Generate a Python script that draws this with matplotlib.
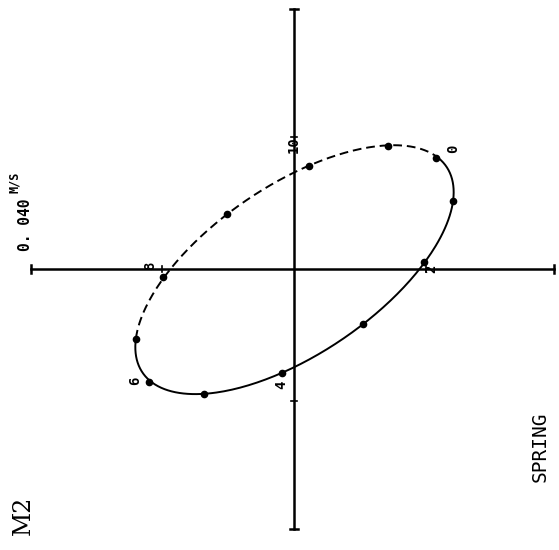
import numpy as np
import matplotlib
matplotlib.use('Agg')
import matplotlib.pyplot as plt

# M2 tidal current ellipse, spring tide: hourly velocity vectors (m/s)
hours = [0, 1, 2, 3, 4, 5, 6, 7, 8, 9, 10, 11]
u = [0.0430, 0.0482, 0.0394, 0.0209, -0.0036, -0.0273,
     -0.0439, -0.0479, -0.0397, -0.0203, 0.0045, 0.0285]
v = [0.0336, 0.0206, 0.0021, -0.0167, -0.0315, -0.0379,
     -0.0342, -0.0212, -0.0024, 0.0167, 0.0312, 0.0373]
hour_labels = ['0', '2', '4', '6', '8', '10']
label_hours = [0, 2, 4, 6, 8, 10]
scale_value = 0.040
axis_half = 0.0797

# fit one M2 harmonic to get the smooth ellipse
u_arr = np.array(u)
v_arr = np.array(v)
ph = 2 * np.pi * np.array(hours) / 12.0
A = np.column_stack([np.ones_like(ph), np.cos(ph), np.sin(ph)])
cu = np.linalg.lstsq(A, u_arr, rcond=None)[0]
cv = np.linalg.lstsq(A, v_arr, rcond=None)[0]


def ellipse(t):
    p = 2 * np.pi * t / 12.0
    return (cu[0] + cu[1] * np.cos(p) + cu[2] * np.sin(p),
            cv[0] + cv[1] * np.cos(p) + cv[2] * np.sin(p))


k = scale_value / 132.0  # m/s per pixel
fig = plt.figure(figsize=(5.59, 5.5), dpi=100)
ax = fig.add_axes([0, 0, 1, 1])
ax.set_xlim(-294 * k, 265 * k)
ax.set_ylim(-281 * k, 269 * k)
ax.axis('off')

# axes through origin with end caps and ticks at the scale value
xa = (-axis_half * 0.999, axis_half * 0.988)
ya = (-axis_half * 0.988, axis_half * 0.99)
ax.plot(xa, [0, 0], color='black', lw=1.8)
ax.plot([0, 0], ya, color='black', lw=1.8)
cap = 4 * k
for x in xa:
    ax.plot([x, x], [-cap, cap], color='black', lw=1.8)
for y in ya:
    ax.plot([-cap, cap], [y, y], color='black', lw=1.8)
tk = 3 * k
for s in (-scale_value, scale_value):
    ax.plot([s, s], [-tk, tk], color='black', lw=1.2)
    ax.plot([-tk, tk], [s, s], color='black', lw=1.2)

# solid first part of the cycle, dashed for the remainder
t1 = np.linspace(0, 7, 200)
t2 = np.linspace(7, 12, 150)
x1, y1 = ellipse(t1)
x2, y2 = ellipse(t2)
ax.plot(x1, y1, color='black', lw=1.4)
ax.plot(x2, y2, color='black', lw=1.4, linestyle=(0, (4.5, 2.5)))
ax.plot(u_arr, v_arr, 'o', color='black', ms=4.5, mfc='black')

# hour labels (plotter text, rotated)
offsets = {0: (17, 9), 2: (7, -7), 4: (-1, -12), 6: (-14, 1), 8: (-13, 11), 10: (-15, 21)}
for h, lab in zip(label_hours, hour_labels):
    dx, dy = offsets[h]
    ax.text(u[h] + dx * k, v[h] + dy * k, lab, rotation=90,
            ha='center', va='center', fontsize=10, family='DejaVu Sans Mono',
            fontweight='bold')

ax.text(-268 * k, 44 * k, '0. 040', rotation=90, ha='center', va='center',
        fontsize=10.5, family='DejaVu Sans Mono', fontweight='bold')
ax.text(-280 * k, 87 * k, 'M/S', rotation=90, ha='center', va='center',
        fontsize=8.5, family='DejaVu Sans Mono', fontweight='bold')
ax.text(246 * k, -178 * k, 'SPRING', rotation=90, ha='center', va='center',
        fontsize=14, family='DejaVu Sans Mono')
ax.text(-271 * k, -246 * k, 'M2', rotation=90, ha='center', va='center',
        fontsize=17, family='DejaVu Serif')

fig.savefig('out.png', dpi=100)
